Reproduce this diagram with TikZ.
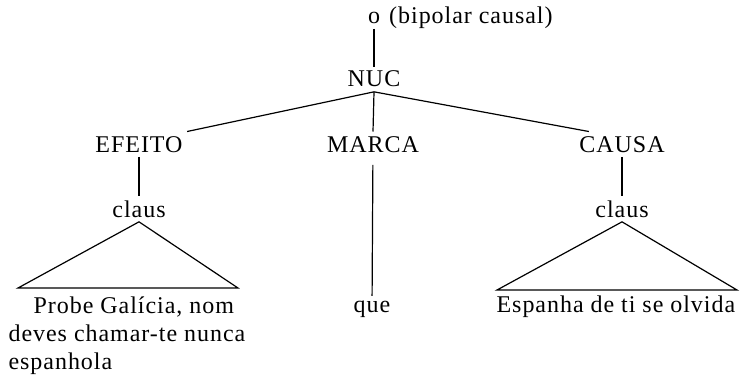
\documentclass[tikz,border=0pt]{standalone}
\usepackage{fontspec}
\setmainfont[LetterSpace=4]{Liberation Serif}
\usetikzlibrary{positioning,calc}

\begin{document}
\begin{tikzpicture}[x=0.5pt, y=-0.5pt, line width=0.6pt, font=\fontsize{12pt}{14pt}\selectfont,
    rotulo/.style={inner sep=2pt, anchor=base}]
    \useasboundingbox (0,0) rectangle (742,374);

    % Raiz
    \node[rotulo] (raiz) at (374,24) {o};
    \node[rotulo, anchor=base west] (tipo) at (raiz.base east) {(bipolar causal)};
    \node[rotulo] (nuc) at (374,87) {NUC};

    % Funções
    \node[rotulo] (efeito) at (139,152) {EFEITO};
    \node[rotulo] (marca) at (373,152) {MARCA};
    \node[rotulo] (causa) at (622,152) {CAUSA};
    \node[rotulo] (clausE) at (139,217) {claus};
    \node[rotulo] (clausC) at (622,217) {claus};

    % Folhas
    \node[inner sep=0pt, anchor=north west, align=left] (folhaE) at (8,296)
        {\hspace*{12.5pt}Probe Galícia, nom\\deves chamar-te nunca\\espanhola};
    \node[rotulo] (que) at (372,312) {que};
    \node[rotulo, anchor=base west] (folhaC) at (492,312) {Espanha de ti se olvida};

    % Bases dos triângulos
    \coordinate (baseE1) at (18,288);
    \coordinate (baseE2) at (238,288);
    \coordinate (baseC1) at (497,290);
    \coordinate (baseC2) at (737,290);

    % Ramos
    \draw (raiz) -- (nuc);
    \draw (nuc.south) -- (efeito.north east);
    \draw (nuc.south) -- (marca.north);
    \draw (nuc.south) -- ([xshift=7pt]causa.north west);
    \draw (efeito) -- (clausE);
    \draw (causa) -- (clausC);
    \draw[shorten <=4pt] (marca) -- (que);

    % Triângulos
    \draw (clausE.south) -- (baseE1) -- (baseE2) -- cycle;
    \draw (clausC.south) -- (baseC1) -- (baseC2) -- cycle;
\end{tikzpicture}
\end{document}
